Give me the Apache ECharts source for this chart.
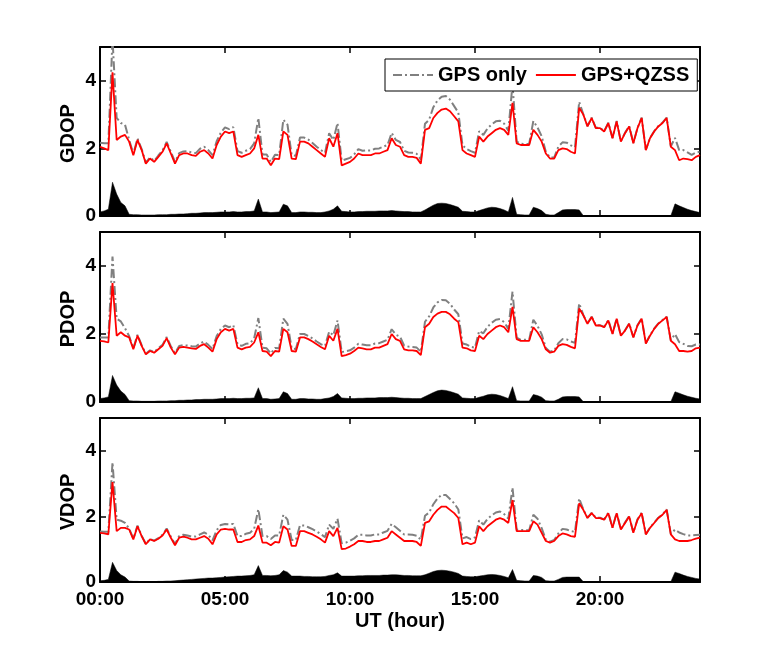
<!DOCTYPE html>
<html><head><meta charset="utf-8">
<script src="https://cdn.jsdelivr.net/npm/echarts@6/dist/echarts.min.js"></script>
<style>html,body{margin:0;padding:0;background:#fff}#c{width:774px;height:645px}</style>
</head><body><div id="c"></div>
<script>
// Sampling grid: one value every 10 minutes, 00:00 .. 24:00 (145 samples)
const STEP_HOURS = 1 / 6;
const panelNames = ['GDOP', 'PDOP', 'VDOP'];
const seriesNames = ['GPS only', 'GPS+QZSS'];
const xTickHours = [0, 5, 10, 15, 20];
const yTicks = [0, 2, 4];

// GPS+QZSS DOP values
const gdopQZSS = [
2.05,2.00,1.95,4.25,2.25,2.35,2.40,2.20,1.80,2.25,1.95,1.55,
1.70,1.60,1.75,1.90,2.15,1.85,1.55,1.80,1.85,1.85,1.80,1.78,
1.90,1.95,1.85,1.70,2.10,2.35,2.50,2.45,2.50,1.80,1.75,1.80,
1.85,2.00,2.40,1.70,1.70,1.50,1.70,1.68,2.50,2.40,1.70,1.68,
2.20,2.20,2.15,2.05,1.95,1.85,1.75,2.30,2.05,2.45,1.50,1.55,
1.60,1.70,1.85,1.80,1.80,1.80,1.85,1.85,1.90,1.95,2.30,2.10,
2.05,1.80,1.75,1.75,1.72,1.55,2.55,2.60,2.90,3.05,3.15,3.18,
3.10,2.95,2.80,1.95,1.85,1.80,1.75,2.35,2.20,2.35,2.45,2.55,
2.60,2.55,2.40,3.35,2.15,2.10,2.10,2.10,2.55,2.40,2.20,1.85,
1.70,1.70,1.95,2.00,1.98,1.90,1.85,3.20,3.00,2.65,2.90,2.60,
2.60,2.50,2.75,2.30,2.80,2.20,2.45,2.65,2.15,2.60,2.90,1.95,
2.30,2.50,2.65,2.75,2.90,2.05,1.95,1.65,1.70,1.68,1.65,1.75,
1.80];
const pdopQZSS = [
1.80,1.78,1.75,3.50,1.95,2.05,1.95,1.90,1.55,1.95,1.65,1.40,
1.50,1.45,1.55,1.65,1.88,1.60,1.40,1.60,1.62,1.60,1.58,1.56,
1.65,1.70,1.60,1.48,1.85,2.05,2.15,2.10,2.15,1.60,1.55,1.60,
1.62,1.75,2.05,1.50,1.48,1.35,1.50,1.48,2.15,2.05,1.50,1.48,
1.90,1.90,1.85,1.78,1.70,1.62,1.55,1.95,1.80,2.15,1.35,1.38,
1.42,1.50,1.60,1.58,1.55,1.55,1.60,1.60,1.65,1.70,2.00,1.85,
1.80,1.55,1.52,1.52,1.50,1.38,2.20,2.30,2.50,2.60,2.65,2.65,
2.58,2.45,2.35,1.60,1.58,1.52,1.50,1.95,1.85,2.00,2.10,2.20,
2.25,2.20,2.05,2.80,1.85,1.80,1.80,1.80,2.20,2.05,1.85,1.55,
1.45,1.48,1.65,1.70,1.68,1.62,1.58,2.75,2.55,2.30,2.50,2.25,
2.25,2.20,2.40,2.00,2.45,1.95,2.10,2.30,1.90,2.25,2.45,1.72,
1.95,2.15,2.30,2.40,2.50,1.80,1.70,1.50,1.50,1.48,1.50,1.58,
1.60];
const vdopQZSS = [
1.50,1.48,1.45,3.05,1.55,1.65,1.65,1.60,1.30,1.70,1.40,1.15,
1.30,1.25,1.32,1.42,1.60,1.35,1.12,1.35,1.38,1.35,1.30,1.30,
1.35,1.40,1.32,1.15,1.45,1.60,1.62,1.60,1.60,1.22,1.22,1.28,
1.30,1.40,1.72,1.20,1.20,1.12,1.22,1.20,1.70,1.60,1.10,1.10,
1.55,1.55,1.50,1.45,1.38,1.30,1.20,1.55,1.40,1.65,1.00,1.02,
1.08,1.15,1.25,1.25,1.22,1.22,1.25,1.25,1.30,1.35,1.55,1.45,
1.35,1.25,1.25,1.25,1.22,1.10,1.80,1.85,2.05,2.20,2.30,2.30,
2.20,2.10,1.95,1.15,1.20,1.15,1.20,1.70,1.55,1.70,1.80,1.90,
1.95,1.90,1.80,2.50,1.55,1.55,1.55,1.55,1.85,1.75,1.50,1.25,
1.20,1.25,1.40,1.48,1.45,1.40,1.38,2.40,2.20,1.95,2.10,1.95,
1.95,1.90,2.10,1.65,2.10,1.60,1.80,2.00,1.50,1.90,2.10,1.45,
1.65,1.80,1.95,2.05,2.20,1.45,1.30,1.25,1.25,1.25,1.28,1.32,
1.35];

// Improvement (GPS only minus GPS+QZSS), drawn as the black area
const gdopDiff = [
0.12,0.15,0.20,1.00,0.65,0.40,0.30,0.05,0.04,0.04,0.03,0.03,
0.03,0.03,0.04,0.04,0.04,0.05,0.05,0.06,0.06,0.07,0.08,0.08,
0.09,0.10,0.10,0.10,0.11,0.12,0.12,0.12,0.13,0.12,0.12,0.13,
0.13,0.15,0.50,0.12,0.12,0.10,0.11,0.12,0.35,0.30,0.10,0.10,
0.12,0.12,0.11,0.11,0.10,0.10,0.12,0.15,0.20,0.30,0.14,0.13,
0.12,0.12,0.13,0.13,0.14,0.14,0.14,0.15,0.15,0.15,0.16,0.15,
0.14,0.13,0.13,0.12,0.12,0.12,0.18,0.25,0.32,0.37,0.38,0.37,
0.34,0.30,0.26,0.14,0.13,0.12,0.12,0.16,0.20,0.24,0.26,0.25,
0.22,0.18,0.12,0.55,0.05,0.04,0.03,0.03,0.26,0.22,0.16,0.05,
0.03,0.03,0.10,0.18,0.19,0.19,0.19,0.18,0.01,0.01,0.01,0.01,
0.01,0.01,0.01,0.01,0.01,0.01,0.01,0.01,0.01,0.01,0.01,0.01,
0.01,0.01,0.01,0.01,0.01,0.01,0.36,0.30,0.25,0.20,0.16,0.13,
0.10];
const pdopDiff = [
0.10,0.12,0.15,0.78,0.50,0.32,0.22,0.04,0.03,0.03,0.02,0.02,
0.02,0.02,0.03,0.03,0.03,0.04,0.04,0.05,0.05,0.06,0.06,0.07,
0.07,0.08,0.08,0.08,0.09,0.10,0.10,0.10,0.11,0.10,0.10,0.11,
0.11,0.12,0.42,0.10,0.10,0.08,0.09,0.10,0.30,0.25,0.08,0.08,
0.10,0.10,0.09,0.09,0.08,0.08,0.10,0.12,0.16,0.25,0.12,0.11,
0.10,0.10,0.11,0.11,0.12,0.12,0.12,0.13,0.13,0.13,0.14,0.13,
0.12,0.11,0.11,0.10,0.10,0.10,0.16,0.22,0.28,0.33,0.35,0.34,
0.31,0.27,0.23,0.12,0.11,0.10,0.10,0.14,0.17,0.21,0.23,0.22,
0.19,0.15,0.10,0.45,0.04,0.03,0.03,0.03,0.22,0.19,0.14,0.04,
0.03,0.03,0.08,0.15,0.16,0.16,0.16,0.15,0.01,0.01,0.01,0.01,
0.01,0.01,0.01,0.01,0.01,0.01,0.01,0.01,0.01,0.01,0.01,0.01,
0.01,0.01,0.01,0.01,0.01,0.01,0.30,0.26,0.21,0.17,0.14,0.11,
0.09];
const vdopDiff = [
0.04,0.05,0.08,0.60,0.35,0.22,0.15,0.03,0.02,0.02,0.01,0.01,
0.01,0.01,0.02,0.02,0.03,0.03,0.04,0.05,0.06,0.07,0.08,0.09,
0.10,0.11,0.12,0.12,0.13,0.14,0.15,0.16,0.17,0.18,0.18,0.19,
0.20,0.22,0.50,0.20,0.20,0.19,0.20,0.22,0.35,0.30,0.18,0.18,
0.18,0.17,0.17,0.16,0.16,0.16,0.17,0.20,0.22,0.28,0.18,0.18,
0.18,0.18,0.19,0.19,0.20,0.20,0.20,0.20,0.21,0.21,0.22,0.22,
0.21,0.20,0.20,0.19,0.19,0.19,0.22,0.27,0.32,0.35,0.36,0.35,
0.33,0.30,0.26,0.18,0.17,0.16,0.16,0.18,0.20,0.22,0.23,0.22,
0.20,0.17,0.13,0.38,0.05,0.04,0.03,0.03,0.20,0.18,0.14,0.04,
0.03,0.03,0.08,0.14,0.15,0.15,0.15,0.15,0.01,0.01,0.01,0.01,
0.01,0.01,0.01,0.01,0.01,0.01,0.01,0.01,0.01,0.01,0.01,0.01,
0.01,0.01,0.01,0.01,0.01,0.01,0.30,0.26,0.21,0.17,0.14,0.11,
0.09];

const qzssSets = [gdopQZSS, pdopQZSS, vdopQZSS];
const diffSets = [gdopDiff, pdopDiff, vdopDiff];
const hours = gdopQZSS.map((_, i) => i * STEP_HOURS);

const FONT = 'Liberation Sans, Arial, sans-serif';
const grids = [
  {left: 100, width: 600, top: 47, height: 169},
  {left: 100, width: 600, top: 232, height: 170},
  {left: 100, width: 600, top: 418, height: 164}
];
const axisLine = {onZero: false, lineStyle: {color: '#000', width: 2}};
const axisTick = {inside: true, length: 6, lineStyle: {color: '#000', width: 1.5}};
const xAxes = [], yAxes = [], series = [], graphics = [];

grids.forEach((g, i) => {
  const last = i === grids.length - 1;
  xAxes.push({
    gridIndex: i, type: 'value', min: 0, max: 24, interval: 5, position: 'bottom',
    axisLine, axisTick, splitLine: {show: false},
    axisLabel: {show: last, showMaxLabel: false, margin: 8, color: '#000',
      fontFamily: FONT, fontWeight: 'bold', fontSize: 19,
      formatter: v => xTickHours.includes(v) ? String(v).padStart(2, '0') + ':00' : ''},
    name: last ? 'UT (hour)' : '', nameLocation: 'middle', nameGap: 29,
    nameTextStyle: {color: '#000', fontFamily: FONT, fontWeight: 'bold', fontSize: 20}
  });
  xAxes.push({
    gridIndex: i, type: 'value', min: 0, max: 24, interval: 5, position: 'top',
    axisLine, axisTick, splitLine: {show: false}, axisLabel: {show: false}
  });
  yAxes.push({
    gridIndex: i, type: 'value', min: 0, max: 5, interval: 2, position: 'left',
    axisLine, axisTick, splitLine: {show: false},
    axisLabel: {showMaxLabel: false, margin: 4, color: '#000', fontFamily: FONT,
      fontWeight: 'bold', fontSize: 19,
      formatter: v => yTicks.includes(v) ? String(v) : ''}
  });
  yAxes.push({
    gridIndex: i, type: 'value', min: 0, max: 5, interval: 2, position: 'right',
    axisLine, axisTick, splitLine: {show: false}, axisLabel: {show: false}
  });
  // rotated y-axis title
  graphics.push({
    type: 'text', x: 68, y: g.top + g.height / 2 + 2, rotation: Math.PI / 2,
    style: {text: panelNames[i], fill: '#000', font: 'bold 20px ' + FONT,
      align: 'center', verticalAlign: 'middle',
      textAlign: 'center', textVerticalAlign: 'middle'}
  });
  const red = qzssSets[i], dif = diffSets[i];
  const gps = red.map((v, k) => +(v + dif[k]).toFixed(3));
  series.push({
    type: 'line', xAxisIndex: 2 * i, yAxisIndex: 2 * i, symbol: 'none', silent: true,
    data: hours.map((h, k) => [h, dif[k]]),
    lineStyle: {color: '#000', width: 0.5}, areaStyle: {color: '#000', opacity: 1}
  });
  series.push({
    name: seriesNames[0], type: 'line', xAxisIndex: 2 * i, yAxisIndex: 2 * i, symbol: 'none',
    data: hours.map((h, k) => [h, gps[k]]),
    itemStyle: {color: '#808080'},
    lineStyle: {color: '#808080', width: 2, type: [9, 3, 2, 3]}
  });
  series.push({
    name: seriesNames[1], type: 'line', xAxisIndex: 2 * i, yAxisIndex: 2 * i, symbol: 'none',
    data: hours.map((h, k) => [h, red[k]]),
    itemStyle: {color: '#ff0000'},
    lineStyle: {color: '#ff0000', width: 1.8}
  });
});

const chart = echarts.init(document.getElementById('c'), null, {renderer: 'canvas'});
chart.setOption({
  animation: false,
  backgroundColor: '#fff',
  grid: grids,
  xAxis: xAxes,
  yAxis: yAxes,
  graphic: graphics,
  legend: {
    data: seriesNames.map(n => ({name: n, itemStyle: {opacity: 0}})),
    left: 385, top: 59, orient: 'horizontal',
    backgroundColor: '#fff', borderColor: '#000', borderWidth: 1,
    padding: [6, 8, 6, 7], itemGap: 8, itemWidth: 40, itemHeight: 14,
    textStyle: {color: '#000', fontFamily: FONT, fontWeight: 'bold', fontSize: 20}
  },
  series
});
</script></body></html>
